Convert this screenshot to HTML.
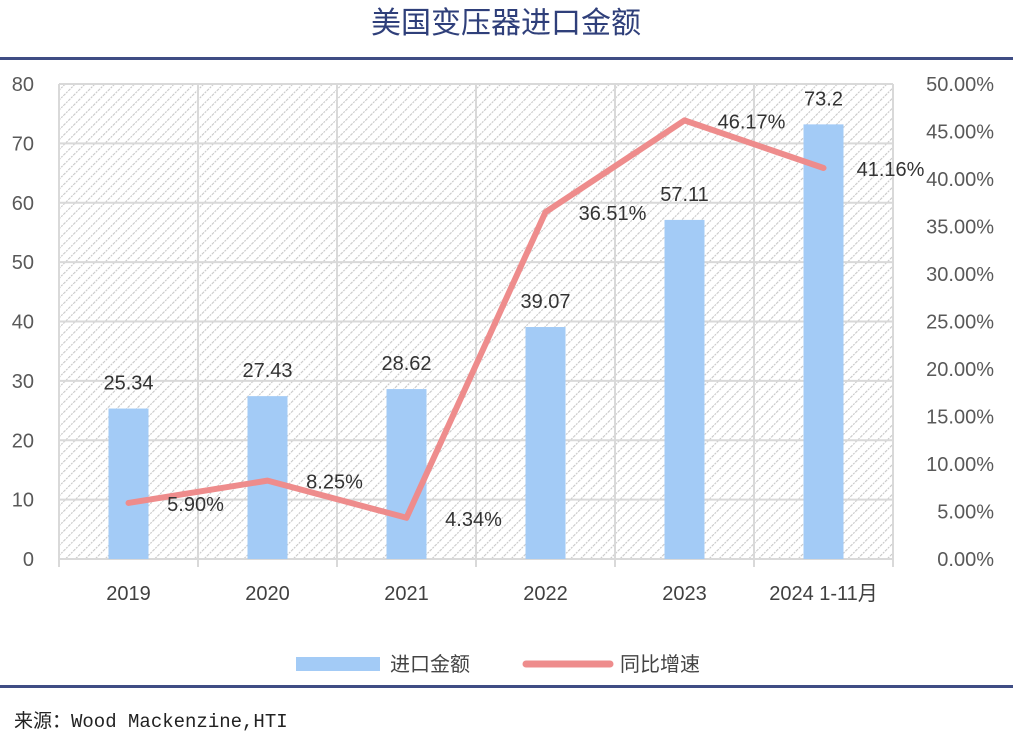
<!DOCTYPE html>
<html><head><meta charset="utf-8"><style>
body{margin:0;background:#fff;width:1013px;height:735px;overflow:hidden;font-family:"Liberation Sans","Noto Sans CJK SC",sans-serif}
</style></head><body>
<svg width="1013" height="735" xmlns="http://www.w3.org/2000/svg">
<defs><pattern id="hatch" width="7" height="7" patternUnits="userSpaceOnUse" patternTransform="rotate(45)"><rect width="7" height="7" fill="#fff"/><line x1="0" y1="0" x2="0" y2="7" stroke="#c8c8c8" stroke-width="2.2" stroke-dasharray="2 1"/></pattern></defs>
<text x="506" y="33" text-anchor="middle" font-size="30" fill="#2f3f7a" font-family="Liberation Sans,Noto Sans CJK SC,sans-serif">美国变压器进口金额</text>
<rect x="0" y="57" width="1013" height="3" fill="#3f4d84"/>
<rect x="0" y="685" width="1013" height="3" fill="#3f4d84"/>
<rect x="59" y="84" width="834" height="475" fill="url(#hatch)"/>
<g id="grid"></g><g id="bars"></g><g id="line"></g><g id="labels"></g>
<g>
<rect x="296" y="657" width="84" height="14" fill="#a3cbf6"/>
<text x="390" y="671" font-size="20" fill="#444">进口金额</text>
<line x1="526" y1="664" x2="610" y2="664" stroke="#ee8c8c" stroke-width="7" stroke-linecap="round"/>
<text x="620" y="671" font-size="20" fill="#444">同比增速</text>
</g>
<text x="14" y="727" font-size="19" fill="#222" font-family="Liberation Mono,Noto Sans CJK SC,monospace">来源：Wood Mackenzine,HTI</text>
</svg>
<script>
const categories=["2019","2020","2021","2022","2023","2024 1-11月"];
const amounts=[25.34,27.43,28.62,39.07,57.11,73.2];
const growth=[5.90,8.25,4.34,36.51,46.17,41.16];
const leftTicks=[0,10,20,30,40,50,60,70,80];
const rightTicks=[0,5,10,15,20,25,30,35,40,45,50];
const NS="http://www.w3.org/2000/svg";
const x0=59,x1=893,yT=84,yB=559;
const cw=(x1-x0)/categories.length;
const xc=i=>x0+cw*(i+0.5);
const yL=v=>yB-v/80*(yB-yT);
const yR=v=>yB-v/50*(yB-yT);
function mk(tag,attrs,parent,text){const e=document.createElementNS(NS,tag);for(const k in attrs)e.setAttribute(k,attrs[k]);if(text!==undefined)e.textContent=text;document.getElementById(parent).appendChild(e);return e;}
leftTicks.forEach(t=>{
 const l=mk('line',{x1:x0,x2:x1,y1:yL(t),y2:yL(t),stroke:'#d9d9d9','stroke-width':2},'grid');
 
 
 const tx=mk('text',{x:34,y:yL(t)+7,'text-anchor':'end','font-size':20,fill:'#595959'},'grid',t);
 
 
});
rightTicks.forEach(t=>{
 const tx=mk('text',{x:994,y:yR(t)+7,'text-anchor':'end','font-size':20,fill:'#595959'},'grid',t.toFixed(2)+'%');
 
 
});
for(let i=0;i<=categories.length;i++){
 const l=mk('line',{x1:x0+cw*i,x2:x0+cw*i,y1:yT,y2:yB+8,stroke:'#d9d9d9','stroke-width':2},'grid');
 
 
}
categories.forEach((c,i)=>{
 const tx=mk('text',{x:xc(i),y:600,'text-anchor':'middle','font-size':20,fill:'#404040'},'labels',c);
 
 
 const b=mk('rect',{x:xc(i)-20,y:yL(amounts[i]),width:40,height:yB-yL(amounts[i]),fill:'#a3cbf6'},'bars');
 
 
 const v=mk('text',{x:xc(i),y:yL(amounts[i])-19,'text-anchor':'middle','font-size':20,fill:'#333'},'labels',amounts[i]);
 
 
 const g=mk('text',{x:xc(i)+67,y:yR(growth[i])+8,'text-anchor':'middle','font-size':20,fill:'#333'},'labels',growth[i].toFixed(2)+'%');
 
 
});
const p=mk('polyline',{points:growth.map((g,i)=>xc(i)+','+yR(g)).join(' '),fill:'none',stroke:'#ee8c8c','stroke-width':6,'stroke-linejoin':'round','stroke-linecap':'round'},'line');


</script>
</body></html>
